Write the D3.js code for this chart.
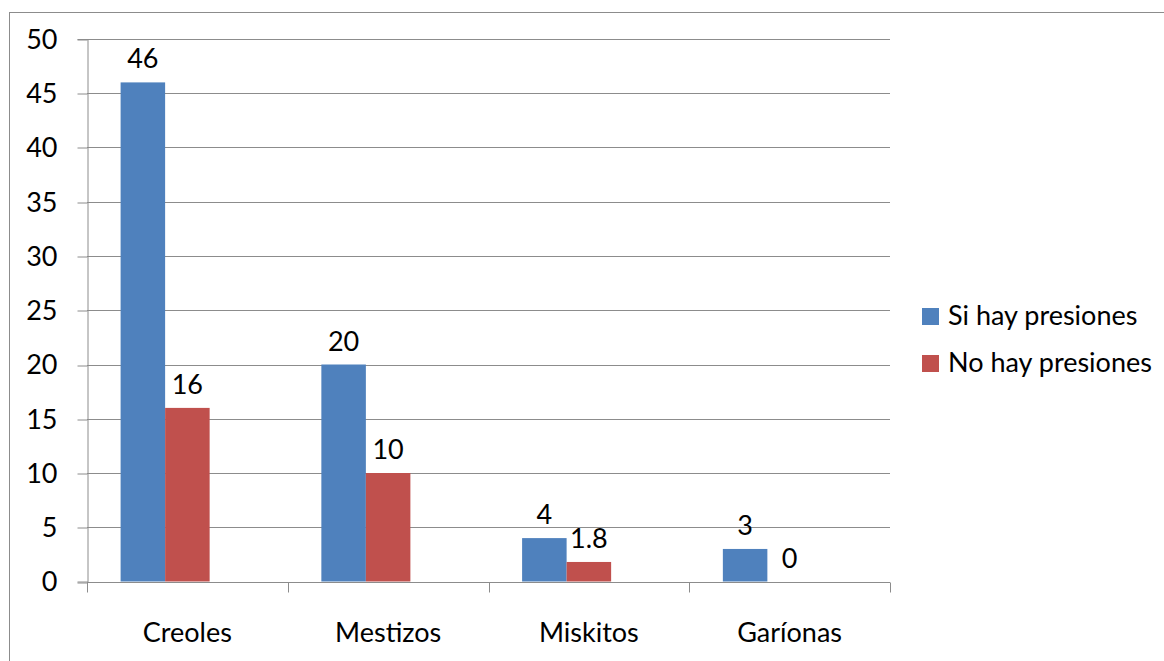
<!DOCTYPE html>
<html>
<head>
<meta charset="utf-8">
<script src="https://cdn.jsdelivr.net/npm/d3@7"></script>
<style>
  body { margin: 0; background: #fff; }
  svg text { font-family: Lato, "Liberation Sans", sans-serif; fill: #000; }
</style>
</head>
<body>
<svg id="chart" width="1164" height="661"></svg>
<script>
// datos del gráfico
var categorias = ["Creoles", "Mestizos", "Miskitos", "Garíonas"];
var series = ["Si hay presiones", "No hay presiones"];
var siHay = [46, 20, 4, 3];
var noHay = [16, 10, 1.8, 0];
var colores = ["#4F81BD", "#C0504D"];
var yTicks = [0, 5, 10, 15, 20, 25, 30, 35, 40, 45, 50];

var valores = [siHay, noHay];

var svg = d3.select("#chart");

// marco exterior
svg.append("rect")
    .attr("x", 9.5).attr("y", 12.5)
    .attr("width", 1200).attr("height", 700)
    .attr("fill", "none")
    .attr("stroke", "#8c8c8c");

var pIzq = 87, pDer = 890, pArriba = 39, pAbajo = 581.5;

var x0 = d3.scaleBand()
    .domain(categorias)
    .range([pIzq, pDer])
    .padding(0);

// hueco vacio para la tercera serie (como en el excel original)
var x1 = d3.scaleBand()
    .domain(series.concat(["_vacio"]))
    .range([0, x0.bandwidth()])
    .paddingInner(0)
    .paddingOuter(0.755);

var y = d3.scaleLinear()
    .domain([0, 50])
    .range([pAbajo, pArriba]);

// lineas de la cuadricula
svg.append("g")
    .selectAll("line")
    .data(yTicks.filter(d => d > 0))
    .enter().append("line")
    .attr("x1", pIzq).attr("x2", pDer)
    .attr("y1", d => Math.round(y(d)) + 0.5)
    .attr("y2", d => Math.round(y(d)) + 0.5)
    .attr("stroke", "#8c8c8c");

// eje y
var yAxis = svg.append("g")
    .attr("transform", "translate(" + (pIzq + 0.5) + ",0)")
    .call(d3.axisLeft(y).tickValues(yTicks).tickSize(10).tickPadding(20));
yAxis.select(".domain").attr("stroke", "#8c8c8c");
yAxis.selectAll(".tick line").attr("stroke", "#8c8c8c")
    .attr("transform", d => "translate(0," + (Math.round(y(d)) + 0.5 - y(d)) + ")");
yAxis.selectAll(".tick text")
    .attr("font-size", 27)
    .attr("dy", "0.35em")
    .style("font-family", "Lato, 'Liberation Sans', sans-serif");

// barras
var grupos = svg.append("g")
    .selectAll("g")
    .data(categorias)
    .enter().append("g")
    .attr("transform", d => "translate(" + x0(d) + ",0)");

grupos.selectAll("rect")
    .data((c, i) => series.map((s, j) => ({ serie: s, valor: valores[j][i], color: colores[j] })))
    .enter().append("rect")
    .attr("x", d => x1(d.serie))
    .attr("width", x1.bandwidth())
    .attr("y", d => y(d.valor))
    .attr("height", d => y(0) - y(d.valor))
    .attr("fill", d => d.color);

grupos.selectAll("text")
    .data((c, i) => series.map((s, j) => ({ serie: s, valor: valores[j][i] })))
    .enter().append("text")
    .attr("x", d => x1(d.serie) + x1.bandwidth() / 2)
    .attr("y", d => y(d.valor) - 14)
    .attr("text-anchor", "middle")
    .attr("font-size", 27)
    .text(d => d.valor);

// eje x
var xAxis = svg.append("g")
    .attr("transform", "translate(0," + (Math.round(pAbajo) + 0.5) + ")");
xAxis.append("line")
    .attr("x1", pIzq).attr("x2", pDer)
    .attr("stroke", "#8c8c8c");
xAxis.selectAll(".sep")
    .data(categorias.map(c => x0(c)).concat([pDer]))
    .enter().append("line")
    .attr("class", "sep")
    .attr("x1", d => Math.round(d) + 0.5).attr("x2", d => Math.round(d) + 0.5)
    .attr("y1", 0).attr("y2", 10)
    .attr("stroke", "#8c8c8c");
xAxis.selectAll("text")
    .data(categorias)
    .enter().append("text")
    .attr("x", d => x0(d) + x0.bandwidth() / 2)
    .attr("y", 59)
    .attr("text-anchor", "middle")
    .attr("font-size", 27)
    .text(d => d);

// leyenda
var leyenda = svg.append("g")
    .selectAll("g")
    .data(series)
    .enter().append("g")
    .attr("transform", (d, i) => "translate(922," + (308 + i * 47) + ")");
leyenda.append("rect")
    .attr("width", 17).attr("height", 17)
    .attr("fill", (d, i) => colores[i]);
leyenda.append("text")
    .attr("x", 26)
    .attr("y", 17)
    .attr("font-size", 27)
    .text(d => d);
</script>
</body>
</html>
